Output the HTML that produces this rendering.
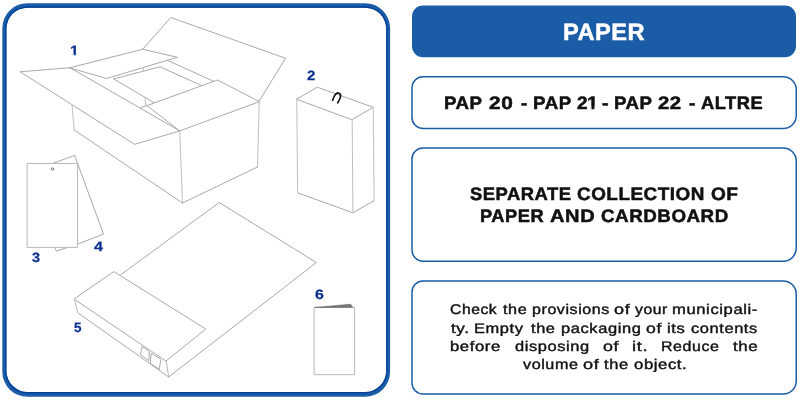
<!DOCTYPE html>
<html lang="en">
<head>
<meta charset="utf-8">
<title>Paper</title>
<style>
html,body{margin:0;padding:0;background:#fff;}
body{text-rendering:geometricPrecision;width:800px;height:400px;position:relative;overflow:hidden;font-family:'Liberation Sans',sans-serif;}
svg{position:absolute;left:0;top:0;}
.w{position:absolute;white-space:nowrap;line-height:1;transform-origin:0 0;color:#111;will-change:transform;}
.tt{font-size:23.6px;font-weight:bold;color:#fff;-webkit-text-stroke:0.5px #fff;letter-spacing:0.5px;}
.hb{font-size:18px;font-weight:bold;-webkit-text-stroke:0.5px #111;letter-spacing:0.5px;}
.pp{font-size:14px;font-weight:normal;letter-spacing:0.5px;-webkit-text-stroke:0.4px #111;}
.lb{font-size:13.5px;font-weight:bold;color:#0c3192;-webkit-text-stroke:0.25px #0c3192;}
.z{letter-spacing:0;}
.one{clip-path:polygon(0 0,100% 0,100% 69%,67% 69%,67% 100%,40% 100%,40% 69%,0 69%);}
</style>
</head>
<body>
<svg width="800" height="400" viewBox="0 0 800 400" fill="none" stroke-linejoin="round" stroke-linecap="round">
<!-- panels -->
<path fill-rule="evenodd" fill="#1a5ca6" d="M27.3 3.2H365.1A25 25 0 0 1 390.1 28.2V371.7A25 25 0 0 1 365.1 396.7H27.3A25 25 0 0 1 2.3 371.7V28.2A25 25 0 0 1 27.3 3.2Z M27.4 7.7H365.2A21 21 0 0 1 386.2 28.7V371.0A21 21 0 0 1 365.2 392.0H27.4A21 21 0 0 1 6.4 371.0V28.7A21 21 0 0 1 27.4 7.7Z"/>
<path fill-rule="evenodd" fill="#04439a" d="M27.3 6.2H365.2A22.3 22.3 0 0 1 387.5 28.5V371.2A22.3 22.3 0 0 1 365.2 393.5H27.3A22.3 22.3 0 0 1 5.0 371.2V28.5A22.3 22.3 0 0 1 27.3 6.2Z M27.4 7.7H365.2A21 21 0 0 1 386.2 28.7V371.0A21 21 0 0 1 365.2 392.0H27.4A21 21 0 0 1 6.4 371.0V28.7A21 21 0 0 1 27.4 7.7Z"/>
<rect x="412" y="5.5" width="384" height="51.8" rx="11" ry="11" fill="#1a5ca6"/>
<g stroke="#1a5ca6" stroke-width="1.5">
<path d="M423.0 76.75H783.25A13 13 0 0 1 796.25 89.75V115.5A13 13 0 0 1 783.25 128.5H423.0A11 11 0 0 1 412.0 117.5V87.75A11 11 0 0 1 423.0 76.75Z"/>
<path d="M423.0 148.0H783.25A13 13 0 0 1 796.25 161.0V248.25A13 13 0 0 1 783.25 261.25H423.0A11 11 0 0 1 412.0 250.25V159.0A11 11 0 0 1 423.0 148.0Z"/>
<path d="M423.0 281.0H783.25A13 13 0 0 1 796.25 294.0V381.0A13 13 0 0 1 783.25 394.0H423.0A11 11 0 0 1 412.0 383.0V292.0A11 11 0 0 1 423.0 281.0Z"/>
</g>
<g stroke="#a9a9a9" stroke-width="1">
<!-- 1: open cardboard box -->
<path d="M20.5 71.75 L70 67.75 L179.75 130.9 L135 144.25 Z"/>
<path d="M70 67.75 L142.75 49.2 L177.25 57.3 L107 78.4 Z"/>
<path d="M142.75 49.2 L170.75 17.5 L285.5 58.25 L258.75 101.75 M167.5 60.4 L213.8 81.4"/>
<path d="M113.75 79 L160 66.75 L202 85.8 M113.75 79 L153.75 102.5"/>
<path stroke="#c0c0c0" d="M143.5 67.5 L143.5 70.8 M145 97.5 L145.6 105.6"/>
<path d="M140.6 107.6 L146.9 105.6 L217.5 80 L259.25 101.5 M146.9 105.6 L179.75 130.9"/>
<path d="M74.25 130 L182.5 203 L257.5 167 M259.25 101.75 L179.75 130.9"/>
<path stroke="#c0c0c0" d="M72 104.5 L74.25 130 M257.5 167 L259.25 101.75 M179.75 130.9 L182.5 203"/>
<!-- 2: carton with hook -->
<path d="M296.8 99 L317.3 87.2 L373.2 107.3 L352.2 119.5 Z"/>
<path d="M297.6 192.8 L352.9 212.8 L374.1 200.6"/>
<path stroke="#c0c0c0" d="M296.8 99 L297.6 192.8 M374.1 200.6 L373.2 107.3 M352.2 119.5 L352.9 212.8"/>
<!-- 3 / 4: tags -->
<path d="M52.2 163.5 L74.7 155.5 L103.5 234.1 L77.5 244.1 M67.7 247.3 L56.4 251.2 L54.8 247.3"/>
<rect x="27.5" y="163.5" width="50" height="83.9" stroke="#b8b8b8"/>
<circle cx="52.5" cy="169" r="1.2" stroke="#6e6e6e" stroke-width="0.9"/>
<!-- 5: paper ream + sheet -->
<path d="M120.6 274.9 L219.2 202.5 L316.4 262.5 L168.7 377"/>
<path d="M74.3 298.8 L113.8 271.6 L205.8 329 L166.2 360.8 Z"/>
<path d="M77.8 312.8 L168.7 377"/>
<path stroke="#bababa" d="M74.3 298.8 L77.8 312.8 M168.7 377 L166.2 360.8"/>
<path d="M142.5 346.7 L149.2 351.5 L148.9 360.8 L140.7 354.8 Z M151.5 353.3 L160.8 359.3 L159.3 369.5 L150.7 363.5 Z"/>
<!-- 6: leaflet -->
<rect x="314.5" y="307.4" width="40.1" height="67.3" stroke="#b8b8b8"/>
</g>
<path d="M315 307.4 L350.6 304.2 L352.5 307.1 Z" fill="#777" stroke="#555" stroke-width="0.5"/>
<path d="M332.7 100.3 C334 96.2 336 92.6 338.4 93 C341.6 93.7 341.2 97.6 337.7 102.8" stroke="#151515" stroke-width="1.7"/>
</svg>

<span class="w tt" style="left:562.75px;top:22.00px;transform:scaleX(1.001)">PAPER</span>
<span class="w hb" style="left:444.26px;top:94.00px;transform:scaleX(1.037)">PAP</span>
<span class="w hb" style="left:489.01px;top:94.00px;transform:scaleX(1.159)">20</span>
<span class="w hb z" style="left:521.27px;top:94.00px;transform:scaleX(1.060)">-</span>
<span class="w hb" style="left:533.06px;top:94.00px;transform:scaleX(1.042)">PAP</span>
<span class="w hb z" style="left:576.94px;top:94.00px;transform:scaleX(1.059)">2</span>
<span class="w hb z one" style="left:586.97px;top:94.00px;transform:scaleX(1.100)">1</span>
<span class="w hb z" style="left:601.95px;top:94.00px;transform:scaleX(1.100)">-</span>
<span class="w hb" style="left:614.26px;top:94.00px;transform:scaleX(1.037)">PAP</span>
<span class="w hb" style="left:658.12px;top:94.00px;transform:scaleX(1.129)">22</span>
<span class="w hb z" style="left:688.66px;top:94.00px;transform:scaleX(1.080)">-</span>
<span class="w hb" style="left:701.40px;top:94.00px;transform:scaleX(1.016)">ALTRE</span>
<span class="w hb" style="left:470.04px;top:185.10px;transform:scaleX(1.021)">SEPARATE</span>
<span class="w hb" style="left:576.68px;top:185.10px;transform:scaleX(1.049)">COLLECTION</span>
<span class="w hb" style="left:711.07px;top:185.10px;transform:scaleX(1.059)">OF</span>
<span class="w hb" style="left:480.18px;top:207.20px;transform:scaleX(1.017)">PAPER</span>
<span class="w hb" style="left:550.20px;top:207.20px;transform:scaleX(1.116)">AND</span>
<span class="w hb" style="left:600.68px;top:207.20px;transform:scaleX(1.043)">CARDBOARD</span>
<span class="w pp" style="left:450.44px;top:302.40px;transform:scaleX(1.120)">Check</span>
<span class="w pp" style="left:502.75px;top:302.40px;transform:scaleX(1.157)">the</span>
<span class="w pp" style="left:531.64px;top:302.40px;transform:scaleX(1.144)">provisions</span>
<span class="w pp" style="left:613.88px;top:302.40px;transform:scaleX(1.290)">of</span>
<span class="w pp" style="left:635.28px;top:302.40px;transform:scaleX(1.124)">your</span>
<span class="w pp" style="left:672.11px;top:302.40px;transform:scaleX(1.187)">municipali-</span>
<span class="w pp" style="left:451.00px;top:320.70px;transform:scaleX(1.218)">ty.</span>
<span class="w pp" style="left:473.83px;top:320.70px;transform:scaleX(1.173)">Empty</span>
<span class="w pp" style="left:530.60px;top:320.70px;transform:scaleX(1.170)">the</span>
<span class="w pp" style="left:560.62px;top:320.70px;transform:scaleX(1.177)">packaging</span>
<span class="w pp" style="left:646.19px;top:320.70px;transform:scaleX(1.257)">of</span>
<span class="w pp" style="left:667.22px;top:320.70px;transform:scaleX(1.179)">its</span>
<span class="w pp" style="left:690.96px;top:320.70px;transform:scaleX(1.174)">contents</span>
<span class="w pp" style="left:450.11px;top:339.00px;transform:scaleX(1.189)">before</span>
<span class="w pp" style="left:514.71px;top:339.00px;transform:scaleX(1.174)">disposing</span>
<span class="w pp" style="left:602.78px;top:339.00px;transform:scaleX(1.278)">of</span>
<span class="w pp" style="left:632.29px;top:339.00px;transform:scaleX(1.306)">it.</span>
<span class="w pp" style="left:660.76px;top:339.00px;transform:scaleX(1.139)">Reduce</span>
<span class="w pp" style="left:733.40px;top:339.00px;transform:scaleX(1.205)">the</span>
<span class="w pp" style="left:522.79px;top:357.40px;transform:scaleX(1.153)">volume</span>
<span class="w pp" style="left:582.78px;top:357.40px;transform:scaleX(1.298)">of</span>
<span class="w pp" style="left:604.00px;top:357.40px;transform:scaleX(1.175)">the</span>
<span class="w pp" style="left:633.70px;top:357.40px;transform:scaleX(1.192)">object.</span>
<span class="w lb one" style="left:69.98px;top:44.00px;transform:scaleX(1.166)">1</span>
<span class="w lb" style="left:306.72px;top:69.25px;transform:scaleX(1.107)">2</span>
<span class="w lb" style="left:31.98px;top:250.75px;transform:scaleX(1.071)">3</span>
<span class="w lb" style="left:94.00px;top:240.25px;transform:scaleX(1.200)">4</span>
<span class="w lb" style="left:73.65px;top:321.00px;transform:scaleX(1.000)">5</span>
<span class="w lb" style="left:314.96px;top:287.90px;transform:scaleX(1.179)">6</span>
</body>
</html>
